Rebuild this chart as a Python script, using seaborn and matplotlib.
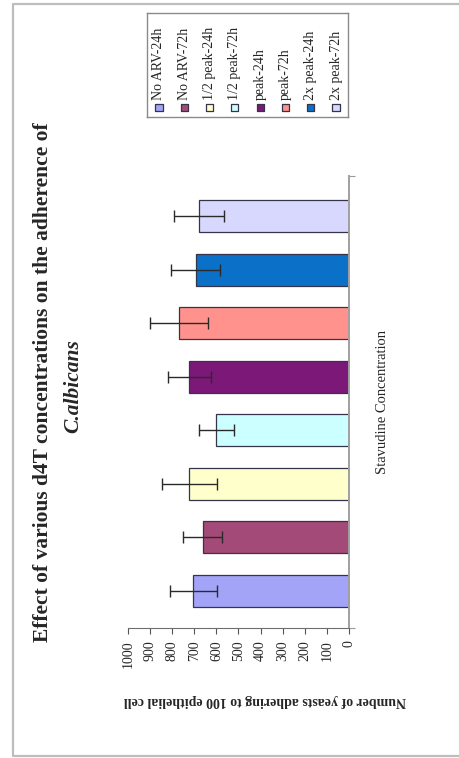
import numpy as np
import pandas as pd
import seaborn as sns
import matplotlib.pyplot as plt
from matplotlib.lines import Line2D

# data (the chart is printed turned sideways)
groups = ['No ARV-24h', 'No ARV-72h', '1/2 peak-24h', '1/2 peak-72h',
          'peak-24h', 'peak-72h', '2x peak-24h', '2x peak-72h']
means = [704, 662, 722, 600, 722, 769, 694, 679]
errors = [105, 87, 124, 78, 98, 130, 110, 113]
colors = ['#A3A3F7', '#A34A78', '#FFFFCC', '#CCFFFF',
          '#7B1878', '#FF928C', '#0A70C8', '#D8D8FF']
value_ticks = [0, 100, 200, 300, 400, 500, 600, 700, 800, 900, 1000]

df = pd.DataFrame({'group': groups, 'yeasts': means, 'err': errors})

sns.set_style("white")
plt.rcParams['font.family'] = ['Liberation Serif', 'DejaVu Serif']

W, H = 460, 758
fig = plt.figure(figsize=(W / 100, H / 100), dpi=100)

# outer frame of the scanned figure (right side runs off the page)
fig.add_artist(Line2D([1.0, 13 / W, 13 / W, 1.0], [1 - 4 / H, 1 - 4 / H, 2 / H, 2 / H],
                      transform=fig.transFigure, color='#BDBDBD', lw=1.6))

ax = fig.add_axes([128 / W, 1 - 628 / H, 221 / W, 452 / H])
sns.barplot(data=df, x='yeasts', y='group', hue='group', palette=colors,
            orient='h', width=0.6, saturation=1, edgecolor='#34344A', linewidth=0.9,
            legend=False, ax=ax)
ax.errorbar(df['yeasts'], np.arange(len(groups)), xerr=df['err'], fmt='none',
            ecolor='#2A2A2A', elinewidth=1.0, capsize=4, capthick=1.0)

ax.set_xlim(1000, 0)
ax.set_ylim(-0.7, 7.75)
ax.set_xticks(value_ticks)
ax.set_xticklabels([str(v) for v in value_ticks], rotation=90, fontsize=10)
ax.tick_params(axis='x', direction='out', length=4, width=0.8, color='#555555', pad=5, bottom=True)

ax.yaxis.tick_right()
ax.yaxis.set_label_position('right')
ax.set_yticks([-0.7, 7.75])
ax.set_yticklabels([])
ax.tick_params(axis='y', direction='out', length=4, width=0.8, color='#999999', right=True)

for s in ['top', 'left']:
    ax.spines[s].set_visible(False)
ax.spines['bottom'].set_color('#6E6E6E')
ax.spines['right'].set_color('#A0A0A0')
ax.spines['right'].set_linewidth(1.4)

ax.set_ylabel('Stavudine Concentration', fontsize=10.5, rotation=90, labelpad=12)
ax.set_xlabel('Number of yeasts adhering to 100 epithelial cell', fontsize=10,
              fontweight='bold', rotation=180)
ax.xaxis.set_label_coords(0.62, -0.145)

# title, turned with the chart
fig.text(43 / W, 1 - 382 / H, 'Effect of various d4T concentrations on the adherence of',
         rotation=90, ha='center', va='center', fontsize=15.5, fontweight='bold')
fig.text(73 / W, 1 - 386 / H, 'C.albicans', rotation=90, ha='center', va='center',
         fontsize=15.5, fontweight='bold', fontstyle='italic')

# legend drawn as its own small axes, one column per series
lax = fig.add_axes([147 / W, 1 - 117 / H, 201 / W, 104 / H])
lax.set_xlim(-0.474, 7.474)
lax.set_ylim(0, 1)
lax.scatter(np.arange(len(groups)), [0.087] * len(groups), marker='s', s=26,
            c=colors, edgecolors='#34344A', linewidths=0.9)
for i, g in enumerate(groups):
    lax.text(i, 0.16, g, rotation=90, ha='center', va='bottom', fontsize=10)
lax.set_xticks([])
lax.set_yticks([])
for s in lax.spines.values():
    s.set_color('#8A8A8A')
    s.set_linewidth(1.0)

fig.savefig('out.png', dpi=100)
